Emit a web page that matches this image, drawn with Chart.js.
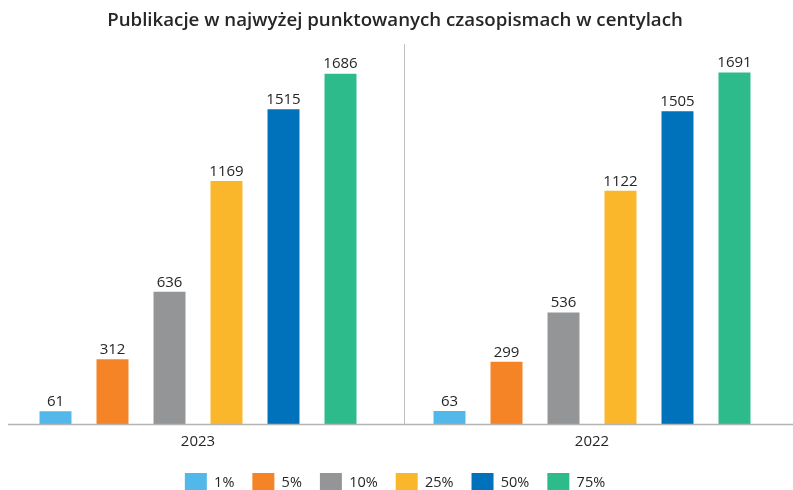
<!DOCTYPE html>
<html>
<head>
<meta charset="utf-8">
<script src="https://cdn.jsdelivr.net/npm/chart.js@4"></script>
<style>
	html, body { margin: 0; padding: 0; background: #fff; }
	#wrap { width: 793px; height: 490px; }
</style>
</head>
<body>
<div id="wrap"><canvas id="chart"></canvas></div>
<script>
const years = ['2023', '2022'];
const centyle = ['1%', '5%', '10%', '25%', '50%', '75%'];
const values1 = [61, 63];
const values5 = [312, 299];
const values10 = [636, 536];
const values25 = [1169, 1122];
const values50 = [1515, 1505];
const values75 = [1686, 1691];
const colors = ['#52B8E9', '#F58426', '#939597', '#FBB72C', '#0071BB', '#2DBB8B'];

const seriesValues = [values1, values5, values10, values25, values50, values75];

// values above bars, divider and base line
const decorPlugin = {
	id: 'decor',
	afterDatasetsDraw(chart) {
		const ctx = chart.ctx;
		const area = chart.chartArea;
		const x = chart.scales.x;

		ctx.save();
		ctx.strokeStyle = '#bfbfbf';
		ctx.lineWidth = 1;
		const mid = (x.getPixelForValue(0) + x.getPixelForValue(1)) / 2 + 8.5;
		ctx.beginPath();
		ctx.moveTo(Math.round(mid) + 0.5, area.top - 6);
		ctx.lineTo(Math.round(mid) + 0.5, area.bottom);
		ctx.stroke();

		ctx.strokeStyle = '#b3b3b3';
		ctx.lineWidth = 1.5;
		ctx.beginPath();
		ctx.moveTo(area.left + 7, area.bottom + 0.5);
		ctx.lineTo(chart.width, area.bottom + 0.5);
		ctx.stroke();

		ctx.font = '15px "Open Sans"';
		ctx.fillStyle = '#262626';
		ctx.textAlign = 'center';
		ctx.textBaseline = 'bottom';
		chart.data.datasets.forEach((ds, i) => {
			chart.getDatasetMeta(i).data.forEach((bar, j) => {
				ctx.fillText(ds.data[j], bar.x, bar.y - 2);
			});
		});
		ctx.restore();
	},
};

new Chart(document.getElementById('chart'), {
	type: 'bar',
	data: {
		labels: years,
		datasets: centyle.map((name, i) => ({
			label: name,
			data: seriesValues[i],
			backgroundColor: colors[i],
			borderWidth: 0,
			categoryPercentage: 0.868,
			barPercentage: 0.561,
		})),
	},
	options: {
		responsive: true,
		maintainAspectRatio: false,
		animation: false,
		layout: {
			padding: { left: 1, right: 4, top: 0, bottom: -12 },
		},
		plugins: {
			title: {
				display: true,
				text: 'Publikacje w najwyżej punktowanych czasopismach w centylach',
				color: '#262626',
				font: { family: 'Open Sans', size: 18.7, weight: 600 },
				padding: { top: 9, bottom: 18.5 },
			},
			legend: {
				position: 'bottom',
				labels: {
					boxWidth: 22,
					boxHeight: 19,
					padding: 18,
					color: '#262626',
					font: { family: 'Open Sans', size: 14.5 },
				},
			},
			tooltip: { enabled: false },
		},
		scales: {
			x: {
				grid: { display: false },
				border: { display: false },
				ticks: {
					color: '#262626',
					padding: 0.5,
					font: { family: 'Open Sans', size: 15 },
				},
				afterFit(scale) {
					scale.height += 4;
				},
			},
			y: {
				display: false,
				min: 0,
				max: 1800,
			},
		},
	},
	plugins: [decorPlugin],
});
</script>
</body>
</html>
